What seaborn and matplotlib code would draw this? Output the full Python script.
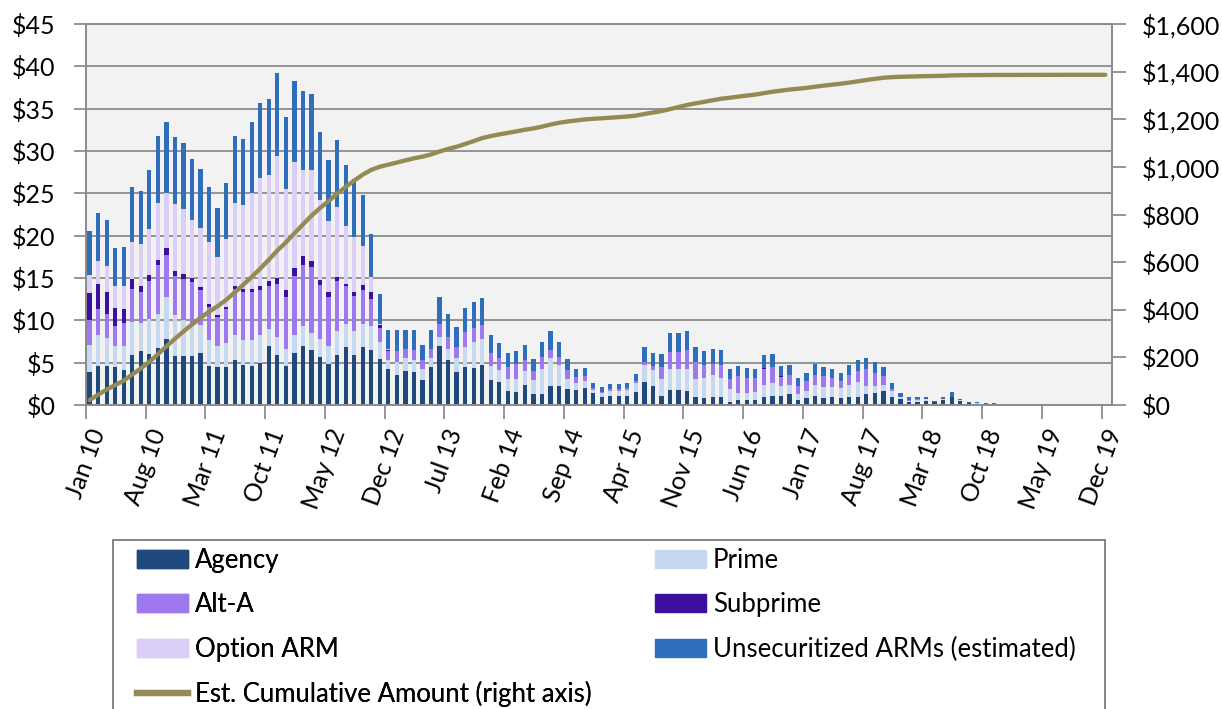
import numpy as np
import seaborn as sns
import matplotlib.pyplot as plt
from matplotlib.ticker import FuncFormatter, MultipleLocator
from matplotlib.patches import Patch, Rectangle
from matplotlib.lines import Line2D

plt.rcParams['font.family'] = ['Lato', 'DejaVu Sans']

# monthly resets, $ billions, Jan 2010 .. Dec 2019 (one row per year)
agency = [
    3.9, 4.6, 4.6, 4.5, 4.1, 5.9, 6.4, 6.0, 6.7, 7.8, 5.8, 5.8,
    5.8, 6.2, 4.6, 4.5, 4.5, 5.3, 4.7, 4.6, 5.0, 7.0, 5.9, 4.6,
    6.1, 7.0, 6.5, 5.7, 4.8, 5.9, 6.9, 5.9, 6.9, 6.5, 5.4, 4.2,
    3.6, 4.0, 3.9, 3.0, 4.5, 7.0, 5.3, 3.9, 4.5, 4.4, 4.7, 3.0,
    2.7, 1.6, 1.5, 2.4, 1.3, 1.3, 2.2, 2.2, 1.9, 1.8, 2.0, 1.4,
    0.9, 1.1, 1.1, 1.1, 1.5, 2.7, 2.2, 1.1, 1.8, 1.8, 1.6, 0.9,
    0.8, 1.0, 1.0, 0.4, 0.6, 0.6, 0.6, 1.0, 1.1, 1.1, 1.3, 0.6,
    0.8, 1.1, 0.8, 0.9, 0.8, 0.9, 0.9, 1.3, 1.4, 1.7, 1.0, 0.7,
    0.4, 0.4, 0.45, 0.3, 0.55, 0.9, 0.45, 0.2, 0.15, 0.1, 0.1, 0.05,
    0.03, 0.03, 0.03, 0.03, 0.03, 0.03, 0.03, 0.03, 0.0, 0.0, 0.0, 0.0,
]
prime = [
    3.2, 3.7, 3.3, 2.5, 2.9, 3.9, 3.3, 4.2, 4.1, 4.9, 4.8, 4.2,
    3.9, 3.2, 3.1, 2.5, 2.8, 3.0, 3.0, 3.1, 3.3, 2.0, 2.1, 2.0,
    2.2, 2.3, 2.0, 2.1, 2.2, 2.8, 2.7, 2.8, 2.7, 2.8, 2.0, 1.1,
    1.5, 1.5, 1.4, 1.3, 1.0, 1.0, 1.3, 1.6, 2.4, 3.1, 3.1, 1.6,
    1.4, 1.5, 1.6, 1.6, 1.6, 3.0, 3.3, 2.5, 1.2, 0.8, 0.8, 0.4,
    0.5, 0.6, 0.6, 0.7, 1.1, 2.0, 1.9, 2.0, 2.4, 2.5, 2.6, 2.2,
    2.4, 2.5, 2.2, 1.5, 0.8, 0.8, 0.9, 1.4, 1.5, 1.2, 1.1, 0.7,
    0.9, 1.3, 1.3, 1.2, 1.2, 1.5, 1.8, 0.9, 0.8, 0.7, 0.7, 0.3,
    0.1, 0.15, 0.25, 0.1, 0.15, 0.1, 0.1, 0.05, 0.05, 0.05, 0.05, 0.02,
    0.01, 0.01, 0.01, 0.01, 0.01, 0.01, 0.01, 0.01, 0.0, 0.0, 0.0, 0.0,
]
alt_a = [
    2.9, 3.0, 2.9, 2.3, 2.7, 3.9, 3.6, 4.5, 5.7, 5.0, 4.6, 4.9,
    4.8, 4.2, 3.9, 3.4, 4.0, 5.4, 5.6, 5.6, 5.3, 5.0, 6.3, 6.2,
    6.9, 7.2, 7.8, 6.4, 5.8, 5.9, 4.4, 4.2, 4.0, 3.2, 1.7, 1.1,
    1.3, 1.1, 1.2, 1.0, 1.1, 1.6, 1.4, 1.4, 1.7, 1.6, 1.7, 1.6,
    1.4, 1.4, 1.7, 1.3, 1.1, 1.4, 1.0, 1.0, 1.0, 0.7, 0.6, 0.2,
    0.1, 0.2, 0.2, 0.2, 0.2, 0.4, 0.5, 1.4, 2.1, 2.0, 2.3, 2.0,
    1.5, 1.4, 1.5, 1.2, 2.0, 1.8, 1.7, 1.9, 1.9, 1.0, 1.1, 1.0,
    1.1, 1.2, 1.3, 1.1, 0.8, 1.2, 1.3, 2.0, 1.6, 1.0, 0.2, 0.0,
    0.1, 0.15, 0.0, 0.0, 0.0, 0.0, 0.0, 0.0, 0.0, 0.0, 0.0, 0.0,
    0.0, 0.0, 0.0, 0.0, 0.0, 0.0, 0.0, 0.0, 0.0, 0.0, 0.0, 0.0,
]
subprime = [
    3.2, 3.0, 2.5, 2.2, 1.6, 1.2, 0.8, 0.7, 0.6, 0.8, 0.6, 0.6,
    0.5, 0.3, 0.3, 0.2, 0.3, 0.3, 0.4, 0.4, 0.5, 0.6, 0.7, 0.8,
    1.0, 1.1, 0.7, 0.6, 0.5, 0.5, 0.3, 0.5, 0.6, 0.9, 0.3, 0.1,
    0.0, 0.0, 0.0, 0.0, 0.0, 0.0, 0.0, 0.0, 0.0, 0.0, 0.0, 0.0,
    0.0, 0.0, 0.0, 0.0, 0.0, 0.0, 0.0, 0.0, 0.0, 0.0, 0.0, 0.0,
    0.0, 0.0, 0.0, 0.0, 0.0, 0.0, 0.0, 0.0, 0.0, 0.0, 0.0, 0.0,
    0.0, 0.0, 0.0, 0.0, 0.0, 0.0, 0.0, 0.1, 0.0, 0.1, 0.0, 0.0,
    0.0, 0.0, 0.0, 0.0, 0.0, 0.0, 0.0, 0.0, 0.0, 0.0, 0.0, 0.0,
    0.0, 0.0, 0.0, 0.0, 0.0, 0.0, 0.0, 0.0, 0.0, 0.0, 0.0, 0.0,
    0.0, 0.0, 0.0, 0.0, 0.0, 0.0, 0.0, 0.0, 0.0, 0.0, 0.0, 0.0,
]
option_arm = [
    2.2, 2.7, 3.1, 2.5, 2.8, 4.4, 4.9, 5.4, 6.7, 6.5, 7.9, 7.6,
    6.8, 7.0, 7.4, 6.9, 8.0, 9.8, 9.9, 11.3, 12.7, 12.6, 14.4, 11.9,
    12.5, 10.2, 10.7, 9.4, 8.4, 8.3, 6.9, 6.5, 4.6, 1.7, 0.2, 0.1,
] + [0.0] * 84
unsecuritized = [
    5.1, 5.7, 5.5, 4.6, 4.6, 6.4, 6.3, 7.0, 8.0, 8.4, 8.0, 7.8,
    7.3, 7.0, 6.4, 5.8, 6.6, 8.0, 7.8, 8.4, 8.9, 9.0, 9.8, 8.5,
    9.6, 9.3, 9.0, 8.0, 7.2, 7.9, 7.1, 6.8, 6.0, 5.1, 3.5, 2.3,
    2.4, 2.3, 2.3, 1.8, 2.3, 3.2, 2.7, 2.3, 2.9, 3.1, 3.1, 2.1,
    1.8, 1.6, 1.6, 1.8, 1.4, 1.8, 2.2, 1.8, 1.3, 1.0, 1.0, 0.6,
    0.6, 0.6, 0.6, 0.6, 0.9, 1.7, 1.5, 1.5, 2.2, 2.2, 2.2, 1.7,
    1.7, 1.7, 1.8, 1.1, 1.2, 1.2, 1.0, 1.5, 1.5, 1.2, 1.2, 0.9,
    1.0, 1.2, 1.1, 1.1, 1.0, 1.1, 1.3, 1.3, 1.3, 1.1, 0.7, 0.4,
    0.3, 0.3, 0.2, 0.1, 0.2, 0.5, 0.2, 0.15, 0.15, 0.1, 0.05, 0.03,
    0.03, 0.03, 0.03, 0.03, 0.03, 0.03, 0.03, 0.03, 0.0, 0.0, 0.0, 0.0,
]

tick_labels = ['Jan 10', 'Aug 10', 'Mar 11', 'Oct 11', 'May 12', 'Dec 12',
               'Jul 13', 'Feb 14', 'Sep 14', 'Apr 15', 'Nov 15', 'Jun 16',
               'Jan 17', 'Aug 17', 'Mar 18', 'Oct 18', 'May 19', 'Dec 19']

series = [
    ('Agency', agency, '#1F497D'),
    ('Prime', prime, '#C6D9F1'),
    ('Alt-A', alt_a, '#9E78EE'),
    ('Subprime', subprime, '#3D0F9E'),
    ('Option ARM', option_arm, '#DBCEF9'),
    ('Unsecuritized ARMs (estimated)', unsecuritized, '#2E6EBB'),
]
line_label = 'Est. Cumulative Amount (right axis)'
line_color = '#948A54'
grey = '#8C8C8C'

x = np.arange(len(agency))
stack = np.cumsum([np.array(s[1]) for s in series], axis=0)
cumulative = np.cumsum(stack[-1])

fig = plt.figure(figsize=(12.22, 7.09), dpi=100)
ax = fig.add_axes([86 / 1222, 1 - 405 / 709, 1025.7 / 1222, 381 / 709])
ax.set_facecolor('#F2F2F2')

# stacked bars: draw the running totals from the top layer down
for i in reversed(range(len(series))):
    sns.barplot(x=x, y=stack[i], color=series[i][2], width=0.5, native_scale=True,
                errorbar=None, saturation=1, linewidth=0, ax=ax)

ax.set_ylim(0, 45)
ax.yaxis.set_major_locator(MultipleLocator(5))
ax.yaxis.set_major_formatter(FuncFormatter(lambda v, p: f'${v:.0f}'))
ax.set_axisbelow(True)
ax.yaxis.grid(True, color=grey, lw=1.3)
ax.xaxis.grid(False)
ax.set_xlabel('')
ax.set_ylabel('')

ax2 = ax.twinx()
sns.lineplot(x=x, y=cumulative, color=line_color, lw=3.1, ax=ax2,
             solid_capstyle='round')
ax2.set_ylim(0, 1600)
ax2.yaxis.set_major_locator(MultipleLocator(200))
ax2.yaxis.set_major_formatter(FuncFormatter(lambda v, p: f'${v:,.0f}'))
ax2.set_ylabel('')

ax.set_xlim(-0.41, 119.75)
ax.set_xticks(np.arange(0, 120, 7) - 0.42)
ax.set_xticklabels(tick_labels, rotation=70, ha='center', va='top')

ax.tick_params(axis='y', length=9, width=1.3, color=grey, pad=13, labelsize=18)
ax.tick_params(axis='x', length=10, width=1.3, color=grey, pad=5, labelsize=18)
ax2.tick_params(axis='y', length=10, width=1.3, color=grey, pad=12, labelsize=18)

for a in (ax, ax2):
    for s in a.spines.values():
        s.set_color(grey)
        s.set_linewidth(1.3)

# legend: open-bottomed frame plus two columns placed by hand
fig.patches.append(Rectangle((113 / 1222, -0.02), 992 / 1222, 1 - 540 / 709 + 0.02,
                             transform=fig.transFigure, facecolor='white',
                             edgecolor='#7A7A7A', lw=1.3))
leg_kw = dict(loc='upper left', frameon=False, fontsize=18.5, handlelength=2.0,
              handleheight=0.7, handletextpad=0.25, labelspacing=0.75,
              borderpad=0, borderaxespad=0)
col1 = [Patch(color=series[0][2]), Patch(color=series[2][2]),
        Patch(color=series[4][2]), Line2D([], [], color=line_color, lw=4.5)]
col2 = [Patch(color=series[1][2]), Patch(color=series[3][2]), Patch(color=series[5][2])]
leg1 = fig.legend(col1, [series[0][0], series[2][0], series[4][0], line_label],
                  bbox_to_anchor=(137 / 1222, 1 - 548 / 709), **leg_kw)
leg2 = fig.legend(col2, [series[1][0], series[3][0], series[5][0]],
                  bbox_to_anchor=(655 / 1222, 1 - 548 / 709), **leg_kw)
fig.add_artist(leg1)

fig.savefig('out.png', dpi=100)
